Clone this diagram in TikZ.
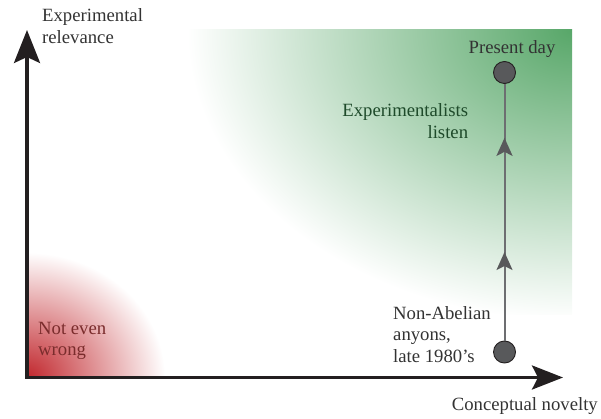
\documentclass[tikz,border=0pt]{standalone}
\usepackage{fontspec}
\setmainfont{Liberation Serif}
\newfontfamily\lblfont{Liberation Serif}
\usetikzlibrary{arrows.meta,decorations.markings}
\definecolor{axiscol}{HTML}{231F20}
\definecolor{linecol}{HTML}{6D6E71}
\definecolor{dotcol}{HTML}{58595B}
\definecolor{txtcol}{HTML}{333333}
\definecolor{greentxt}{HTML}{1E4A2A}
\definecolor{redtxt}{HTML}{7A2C2C}
\definecolor{greenbg}{HTML}{58A769}
\definecolor{redbg}{HTML}{C1272D}
\begin{document}
\begin{tikzpicture}[x=1pt,y=-1pt,
  lbl/.style={font=\lblfont\fontsize{18.7}{21.7}\selectfont, text=txtcol, inner sep=0pt},
  axis/.style={draw=axiscol, line width=3.3pt, line join=miter,
    {Stealth[length=33pt,width=26pt,inset=6pt]}-{Stealth[length=31pt,width=24pt,inset=6pt]}},
  dot/.style={circle, fill=dotcol, draw=axiscol, line width=0.9pt, minimum size=22pt, inner sep=0pt},
  timeline/.style={draw=linecol, line width=2pt, postaction=decorate,
    decoration={markings,
      mark=at position 0.345 with {\arrow{Stealth[length=18pt,width=16pt,inset=4pt,color=dotcol]}},
      mark=at position 0.79 with {\arrow{Stealth[length=18pt,width=16pt,inset=4pt,color=dotcol]}}}}]
\useasboundingbox (0,0) rectangle (601,419);
% green region
\begin{scope}
  \clip (150,30) rectangle (572,314);
  \shade[inner color=greenbg, outer color=white] (572,30) ellipse [x radius=385pt, y radius=290pt];
\end{scope}
% red region
\begin{scope}
  \clip (27,240) rectangle (200,377.5);
  \shade[inner color=redbg, outer color=white] (27,377.5) ellipse [x radius=138pt, y radius=125pt];
\end{scope}
% axes
\coordinate (ytip) at (27,30);
\coordinate (origin) at (27,377.5);
\coordinate (xtip) at (563,377.5);
\draw[axis] (ytip) -- (origin) -- (xtip);
% timeline
\node[dot] (early) at (504.5,352) {};
\node[dot] (pres) at (504.5,72.5) {};
\draw[timeline] (early) -- (pres);
% labels (base anchor = last line)
\node[lbl, anchor=base west, align=left] (ylab) at (42,43.4) {Experimental\\relevance};
\node[lbl, anchor=base east] (xlab) at (598,410) {Conceptual novelty};
\node[lbl, anchor=base] (preslab) at (512,54) {Present day};
\node[lbl, anchor=base east, align=right, text=greentxt] (explab) at (468.3,138.4) {Experimentalists\\listen};
\node[lbl, anchor=base west, align=left] (nalab) at (393,362.4) {Non-Abelian\\anyons,\\late 1980’s};
\node[lbl, anchor=base west, align=left, text=redtxt] (newlab) at (38,355.7) {Not even\\wrong};
\end{tikzpicture}
\end{document}
